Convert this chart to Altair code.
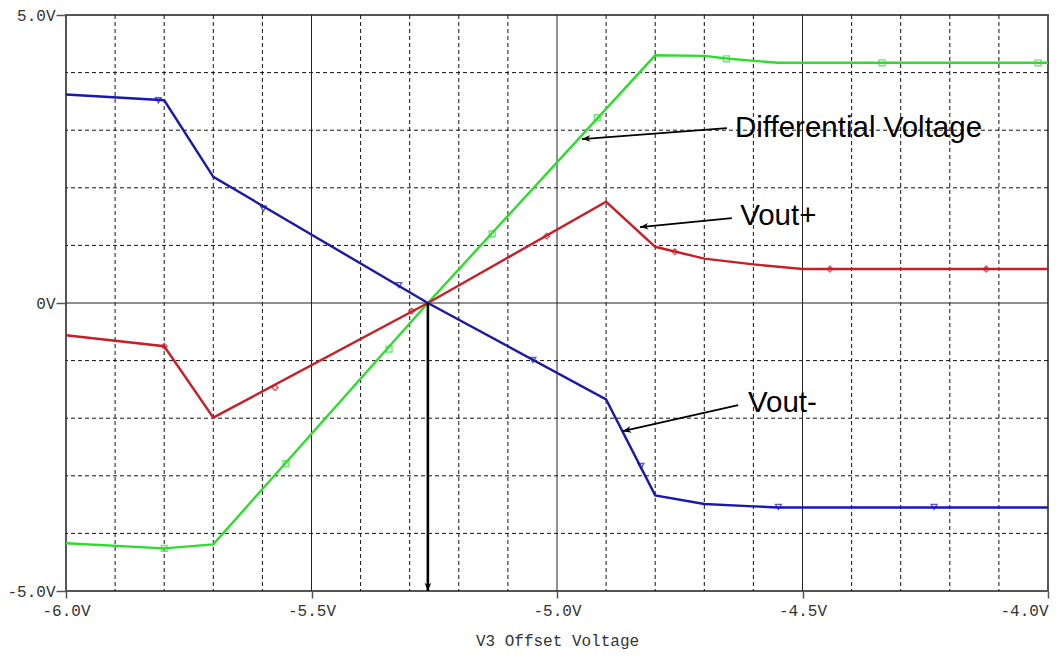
import math
import altair as alt
import pandas as pd
import numpy as np

# ---------------- data ----------------
# Differential Voltage (green)
diff_x = [-6.0, -5.8, -5.7, -5.263, -4.8, -4.7, -4.65, -4.55, -4.0]
diff_y = [-4.17, -4.26, -4.19, 0.0, 4.30, 4.29, 4.24, 4.17, 4.17]
diff_mx = [-5.80, -5.552, -5.342, -5.132, -4.918, -4.655, -4.338, -4.020]
diff_my = [-4.26, -2.79, -0.80, 1.20, 3.22, 4.24, 4.17, 4.17]

# Vout+ (red)
vp_x = [-6.0, -5.8, -5.7, -5.263, -4.9, -4.8, -4.7, -4.6, -4.5, -4.0]
vp_y = [-0.56, -0.75, -1.99, 0.0, 1.757, 0.976, 0.77, 0.67, 0.59, 0.59]
vp_mx = [-5.80, -5.574, -5.296, -5.021, -4.760, -4.444, -4.126]
vp_my = [-0.75, -1.47, -0.14, 1.16, 0.89, 0.59, 0.59]

# Vout- (blue)
vm_x = [-6.0, -5.8, -5.7, -5.263, -4.9, -4.8, -4.7, -4.6, -4.55, -4.0]
vm_y = [3.62, 3.52, 2.19, 0.0, -1.675, -3.34, -3.49, -3.53, -3.55, -3.55]
vm_mx = [-5.812, -5.598, -5.322, -5.049, -4.829, -4.549, -4.232]
vm_my = [3.52, 1.64, 0.31, -0.99, -2.83, -3.54, -3.54]

series_names = ["Differential Voltage", "Vout+", "Vout-"]
series_colors = ["#2edc2e", "#c81e28", "#1a1aa8"]
series_shapes = ["square", "diamond", "triangle-down"]

x_ticks = [-6.0, -5.5, -5.0, -4.5, -4.0]
y_ticks = [-5.0, 0.0, 5.0]

# annotations (data units): label, text x, text baseline y, arrow start, arrow tip
ann_text = ["Differential Voltage", "Vout+", "Vout-"]
ann_tx = [-4.6375, -4.627, -4.611]
ann_ty = [2.881, 1.352, -1.901]
arr_x1 = [-4.654, -4.644, -4.631, -5.263]
arr_y1 = [3.037, 1.474, -1.774, 0.0]
arr_x2 = [-4.949, -4.831, -4.866, -5.263]
arr_y2 = [2.846, 1.318, -2.226, -5.0]

# ---------------- layout ----------------
W, H = 982, 576
PAD = {"left": 66, "top": 15, "right": 11, "bottom": 67}
px_per_x = W / 2.0
px_per_y = H / 10.0
MONO = "Liberation Mono"

lines = pd.concat([
    pd.DataFrame({"x": diff_x, "y": diff_y, "s": series_names[0]}),
    pd.DataFrame({"x": vp_x, "y": vp_y, "s": series_names[1]}),
    pd.DataFrame({"x": vm_x, "y": vm_y, "s": series_names[2]}),
])
marks = pd.concat([
    pd.DataFrame({"x": diff_mx, "y": diff_my, "s": series_names[0]}),
    pd.DataFrame({"x": vp_mx, "y": vp_my, "s": series_names[1]}),
    pd.DataFrame({"x": vm_mx, "y": vm_my, "s": series_names[2]}),
])

xs = alt.Scale(domain=[-6, -4], nice=False, zero=False)
ys = alt.Scale(domain=[-5, 5], nice=False, zero=False)
cs = alt.Scale(domain=series_names, range=series_colors)
ss = alt.Scale(domain=series_names, range=series_shapes)

minor_x = [round(v, 1) for v in np.arange(-5.9, -4.05, 0.1) if abs(round(v * 2) - v * 2) > 1e-6]
minor_y = [v for v in range(-4, 5) if v != 0]
major_x = [-5.5, -5.0, -4.5]
major_y = [0.0]

label_expr = "datum.value == 0 ? '0V' : (datum.value < 0 ? '-' : '') + format(abs(datum.value), '.1f') + 'V'"

x_axis = alt.Axis(
    values=x_ticks, labelExpr=label_expr, grid=False, domain=False,
    tickSize=7, tickColor="#555", tickWidth=1.5,
    labelFont=MONO, labelFontSize=16, labelColor="#333", labelPadding=4,
    labelAlign={"condition": {"test": "datum.value > -4.01", "value": "right"}, "value": "center"},
    labelFlush=False,
    title="V3 Offset Voltage", titleFont=MONO, titleFontSize=16, titleFontWeight="normal",
    titleColor="#333", titlePadding=14,
)
y_axis = alt.Axis(
    values=y_ticks, labelExpr=label_expr, grid=False, domain=False,
    tickSize=10, tickColor="#555", tickWidth=1.5,
    labelFont=MONO, labelFontSize=16, labelColor="#333", labelPadding=1,
    title=None,
)


def X(field):
    return alt.X(field, scale=xs, axis=x_axis)


def Y(field):
    return alt.Y(field, scale=ys, axis=y_axis)


grid_vx = alt.Chart(pd.DataFrame({"x": minor_x})).mark_rule(
    color="#111", strokeWidth=1, strokeDash=[4, 3]
).encode(x=X("x:Q"))
grid_hy = alt.Chart(pd.DataFrame({"y": minor_y})).mark_rule(
    color="#111", strokeWidth=1, strokeDash=[4, 3]
).encode(y=Y("y:Q"))
major_vx = alt.Chart(pd.DataFrame({"x": major_x})).mark_rule(
    color="#222", strokeWidth=1
).encode(x=X("x:Q"))
major_hy = alt.Chart(pd.DataFrame({"y": major_y})).mark_rule(
    color="#222", strokeWidth=1
).encode(y=Y("y:Q"))

line_layer = alt.Chart(lines).mark_line(strokeWidth=2.4).encode(
    x=X("x:Q"), y=Y("y:Q"),
    color=alt.Color("s:N", scale=cs, legend=None),
)
marker_layer = alt.Chart(marks).mark_point(filled=False, size=34, strokeWidth=1.4).encode(
    x=X("x:Q"), y=Y("y:Q"),
    color=alt.Color("s:N", scale=cs, legend=None),
    shape=alt.Shape("s:N", scale=ss, legend=None),
)

# arrows
angles = []
for a, b, c, d in zip(arr_x1, arr_y1, arr_x2, arr_y2):
    dx = (c - a) * px_per_x
    dy = -(d - b) * px_per_y
    angles.append(math.degrees(math.atan2(dy, dx)) % 360)
arrows = pd.DataFrame({"x": arr_x1, "y": arr_y1, "x2": arr_x2, "y2": arr_y2, "ang": angles})
arrows["w"] = [1.8, 1.8, 1.8, 2.6]

shafts = alt.Chart(arrows).mark_rule(color="black").encode(
    x=X("x:Q"), y=Y("y:Q"),
    x2="x2:Q", y2="y2:Q",
    strokeWidth=alt.StrokeWidth("w:Q", scale=None),
)
heads = alt.Chart(arrows).mark_point(
    shape="M0,0L-2,-0.8L-1.4,0L-2,0.8Z", filled=True, color="black", size=70, opacity=1
).encode(
    x=X("x2:Q"), y=Y("y2:Q"),
    angle=alt.Angle("ang:Q", scale=None),
)

texts = alt.Chart(pd.DataFrame({"t": ann_text, "x": ann_tx, "y": ann_ty})).mark_text(
    align="left", baseline="alphabetic", font="Liberation Sans", fontSize=29.5, color="black"
).encode(
    x=X("x:Q"), y=Y("y:Q"), text="t:N"
)

chart = alt.layer(
    grid_vx, grid_hy, major_vx, major_hy,
    line_layer, marker_layer, shafts, heads, texts,
).properties(
    width=W, height=H,
    autosize=alt.AutoSizeParams(type="none"),
    padding=PAD,
    background="white",
).configure_view(stroke="#555", strokeWidth=2)

chart.save("out.html", embed_options={"renderer": "svg", "actions": False})
